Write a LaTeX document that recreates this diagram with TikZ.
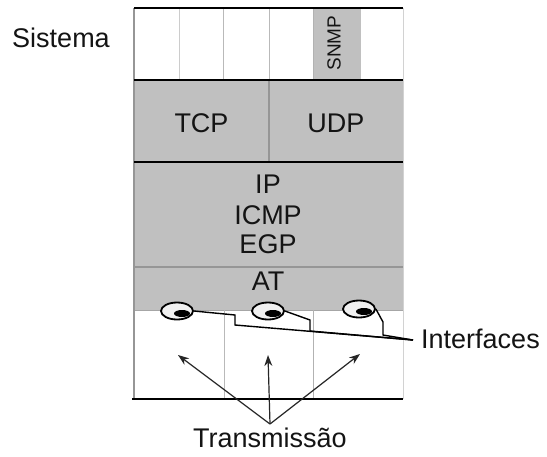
\documentclass[tikz,border=0pt]{standalone}
\usepackage{fontspec}
\setmainfont{Liberation Sans}
\usetikzlibrary{shapes.geometric,arrows.meta}
\definecolor{layer}{RGB}{192,192,192}
\definecolor{rule}{RGB}{150,150,150}
\definecolor{ink}{RGB}{20,20,20}
\begin{document}
\begin{tikzpicture}[x=1pt,y=-1pt,
  lbl/.style={font=\fontsize{27}{29}\selectfont, inner sep=0pt, anchor=base, text=ink},
  hard/.style={line width=2pt, black},
  thinrule/.style={line width=1.2pt, rule},
  iface/.style={ellipse, draw=black, line width=1.8pt, fill=gray!12,
    minimum width=32pt, minimum height=17pt, inner sep=0pt,
    path picture={\fill[black] ([xshift=5pt,yshift=-2.5pt]path picture bounding box.center) ellipse (8pt and 3.5pt);}},
  conn/.style={line width=1.4pt, black},
  arr/.style={-{Stealth[length=11pt,width=8pt]}, line width=1.2pt, black!85}]
\useasboundingbox (0,0) rectangle (547,456);
\fill[white] (0,0) rectangle (547,456);
% gray layers
\fill[layer] (134,80) rectangle (403,310);
\fill[layer] (313,8) rectangle (361,80);
% thin rules
\draw[line width=0.8pt, gray!40] (179,8) -- (179,80);
\draw[line width=0.8pt, gray!55] (223,8) -- (223,80);
\draw[line width=0.8pt, gray!55] (269,8) -- (269,80);
\draw[line width=0.8pt, gray!60] (313,8) -- (313,80);
\draw[thinrule] (269,80) -- (269,162);
\draw[line width=1.2pt, rule] (134,267) -- (403,267);
\draw[line width=0.8pt, gray!70] (134,310) -- (403,310);
\draw[line width=0.9pt, gray!55] (224,310) -- (224,399);
\draw[line width=0.9pt, gray!60] (313,310) -- (313,399);
\draw[thinrule] (134,8) -- (134,399);
\draw[line width=1pt, gray!35] (403,8) -- (403,399);
% heavy rules
\draw[hard] (134,8) -- (403,8);
\draw[hard] (134,80) -- (403,80);
\draw[hard] (134,162) -- (403,162);
\draw[hard] (132,399) -- (403,399);
% texts
\node[lbl] (sys) at (61,47) {Sistema};
\node[font=\fontsize{19}{20}\selectfont, inner sep=0pt, rotate=90, text=ink] (snmp) at (334,43) {SNMP};
\node[lbl] (tcp) at (201.5,132) {TCP};
\node[lbl] (udp) at (336,132) {UDP};
\node[lbl] (ip) at (268,193) {IP};
\node[lbl] (icmp) at (268,224) {ICMP};
\node[lbl] (egp) at (268,253) {EGP};
\node[lbl] (at) at (268,290) {AT};
\node[lbl, anchor=base west] (ifl) at (421,348) {Interfaces};
\node[lbl] (tr) at (270,447) {Transmissão};
% interface ellipses
\node[iface] (e1) at (177,311) {};
\node[iface] (e2) at (268,311) {};
\node[iface] (e3) at (359,309) {};
\coordinate (ifc) at (413,340);
\draw[conn] (e1.east) -- (235,315) -- (235,325) -- (ifc);
\draw[conn] (e2.east) -- (310,320) -- (310,331) -- (ifc);
\draw[conn] (e3.east) -- (383,322) -- (383,335) -- (ifc);
% transmission arrows
\coordinate (tx) at (270,424);
\coordinate (a1) at (178,355);
\coordinate (a2) at (268,355);
\coordinate (a3) at (360,354);
\draw[arr] (tx) -- (a1);
\draw[arr] (tx) -- (a2);
\draw[arr] (tx) -- (a3);
\end{tikzpicture}
\end{document}
